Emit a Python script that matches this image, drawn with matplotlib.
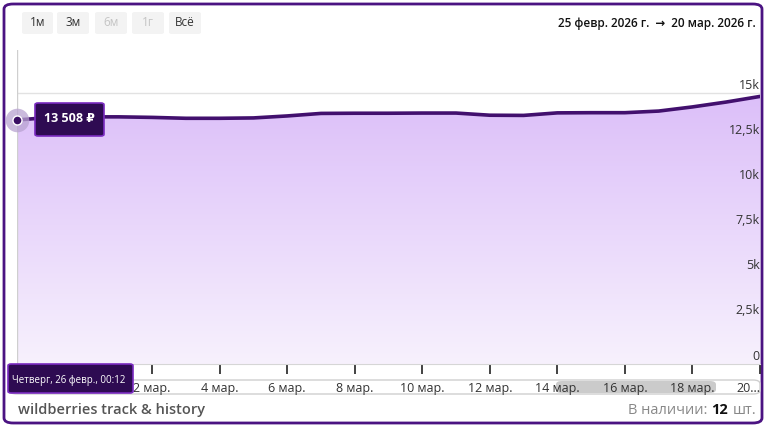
import numpy as np
import matplotlib
matplotlib.use("Agg")
import matplotlib.pyplot as plt
from matplotlib.patches import FancyBboxPatch
from matplotlib.colors import LinearSegmentedColormap

plt.rcParams["font.family"] = ["Open Sans", "DejaVu Sans"]

# daily prices, 26 Feb .. 20 Mar 2026
day_index = list(range(23))
prices = [13508, 13650, 13680, 13680, 13650, 13600, 13600, 13620, 13730, 13870,
          13880, 13880, 13890, 13890, 13770, 13760, 13900, 13910, 13910, 14000,
          14230, 14500, 14810]
tick_days = [4, 6, 8, 10, 12, 14, 16, 18, 20, 22]
tick_labels = ["2 мар.", "4 мар.", "6 мар.", "8 мар.", "10 мар.", "12 мар.",
               "14 мар.", "16 мар.", "18 мар.", "20..."]
y_ticks = [0, 2500, 5000, 7500, 10000, 12500, 15000]
y_labels = ["0", "2,5k", "5k", "7,5k", "10k", "12,5k", "15k"]
buttons = ["1м", "3м", "6м", "1г", "Всё"]
buttons_active = [True, True, False, False, True]

W, H = 766, 426
fig = plt.figure(figsize=(W / 100, H / 100), dpi=100)


def fx(x):
    return x / W


def fy(y):
    return 1 - y / H


# outer frame
fig.patches.append(FancyBboxPatch((fx(4), fy(423)), fx(758), 419 / H,
                                  boxstyle="round,pad=0,rounding_size=0.012",
                                  transform=fig.transFigure, fc="white",
                                  ec="#4b1382", lw=2, zorder=-2))

ax = fig.add_axes([fx(17), fy(364), fx(760) - fx(17), (364 - 50) / H])
for s in ax.spines.values():
    s.set_visible(False)
ax.patch.set_alpha(0)

for v, lab in zip(y_ticks, y_labels):
    ax.axhline(v, color="#e2e2e2", lw=1, zorder=1)
    ax.text(22, v + 80, lab, ha="right", va="bottom",
            fontsize=9, color="#333333")
ax.set_yticks([])

# gradient fill under the line
cmap = LinearSegmentedColormap.from_list("fade", ["#f7f1fd", "#dcbff9"])
grad = np.linspace(0, 1, 256).reshape(-1, 1)
img = ax.imshow(grad, cmap=cmap, aspect="auto", origin="lower",
                extent=[0, 22, 0, max(prices)], zorder=2)
poly = ax.fill_between(day_index, prices, 0, color="none", lw=0)
img.set_clip_path(poly.get_paths()[0], transform=ax.transData)
ax.set_xlim(0, 22)
ax.set_ylim(0, 17380)
ax.plot(day_index, prices, color="#42106e", lw=2.6, zorder=4,
        solid_capstyle="round", solid_joinstyle="round")

# crosshair
ax.axvline(0, color="#cfcfcf", lw=1, zorder=3)

ax.set_xticks(tick_days)
ax.set_xticklabels(tick_labels, fontsize=9, color="#333333")
ax.get_xticklabels()[-1].set_horizontalalignment("right")
ax.tick_params(axis="x", length=7, width=1.2, color="#222222", pad=6)
ax.tick_params(axis="y", length=0)
ax.set_xticks([0, 2], minor=True)
ax.tick_params(axis="x", which="minor", length=7, width=1.2, color="#222222")
ax.spines["bottom"].set_visible(True)
ax.spines["bottom"].set_color("#d6d6d6")

# navigator band
fig.patches.append(FancyBboxPatch((fx(10), fy(394)), fx(750), 14 / H,
                                  boxstyle="round,pad=0,rounding_size=0.009",
                                  transform=fig.transFigure, fc="none",
                                  ec="#cfcfcf", lw=1, zorder=-1))
fig.patches.append(FancyBboxPatch((fx(556), fy(393)), fx(160), 12 / H,
                                  boxstyle="round,pad=0,rounding_size=0.008",
                                  transform=fig.transFigure, fc="#cbcbcb",
                                  ec="none", zorder=-1))

# point marker with halo
ax.plot([0], [prices[0]], "o", ms=17, color="#b9a3d1", alpha=0.75, mew=0,
        zorder=5, clip_on=False)
ax.plot([0], [prices[0]], "o", ms=6.5, color="#3a0f63", mec="white", mew=1,
        zorder=6, clip_on=False)

# price tooltip
fig.patches.append(FancyBboxPatch((fx(35), fy(136)), fx(69), 33 / H,
                                  boxstyle="round,pad=0,rounding_size=0.004",
                                  transform=fig.transFigure, fc="#2e0b52",
                                  ec="#7a2bc0", lw=1.2, zorder=10))
fig.text(fx(69), fy(119), "13 508 ₽", ha="center", va="center", fontsize=9,
         fontweight="bold", color="white", zorder=11)

# date tooltip
fig.patches.append(FancyBboxPatch((fx(8), fy(393)), fx(125), 29 / H,
                                  boxstyle="round,pad=0,rounding_size=0.004",
                                  transform=fig.transFigure, fc="#2e0b52",
                                  ec="#7a2bc0", lw=1.2, zorder=10))
fig.text(fx(69), fy(380), "Четверг, 26 февр., 00:12", ha="center", va="center",
         fontsize=7, color="white", zorder=11)

# range buttons
bx = [22, 57, 95, 132, 169]
bw = [31, 32, 32, 32, 32]
for x0, w, lab, on in zip(bx, bw, buttons, buttons_active):
    fig.patches.append(FancyBboxPatch((fx(x0), fy(34)), fx(w), 22 / H,
                                      boxstyle="round,pad=0,rounding_size=0.004",
                                      transform=fig.transFigure, fc="#f3f3f3",
                                      ec="none", zorder=-1))
    fig.text(fx(x0 + w / 2), fy(23), lab, ha="center", va="center", fontsize=8.5,
             color="#333333" if on else "#c4c4c4")

fig.text(fx(756), fy(23), "25 февр. 2026 г.  →  20 мар. 2026 г.", ha="right",
         va="center", fontsize=8.5, color="#111111", fontweight="semibold")

fig.text(fx(18), fy(410), "wildberries track & history", ha="left", va="center",
         fontsize=10.5, color="#555555", fontweight="semibold")
t1 = fig.text(fx(756), fy(410), "шт.", ha="right", va="center", fontsize=10.5,
              color="#888888")
fig.canvas.draw()
r = fig.canvas.get_renderer()
bb = t1.get_window_extent(r)
t2 = fig.text(bb.x0 / W - fx(4), fy(410), "12", ha="right", va="center",
              fontsize=10.5, color="#111111", fontweight="bold")
bb2 = t2.get_window_extent(r)
fig.text(bb2.x0 / W - fx(4), fy(410), "В наличии:", ha="right", va="center",
         fontsize=10.5, color="#888888")

fig.savefig("out.png", dpi=100)
